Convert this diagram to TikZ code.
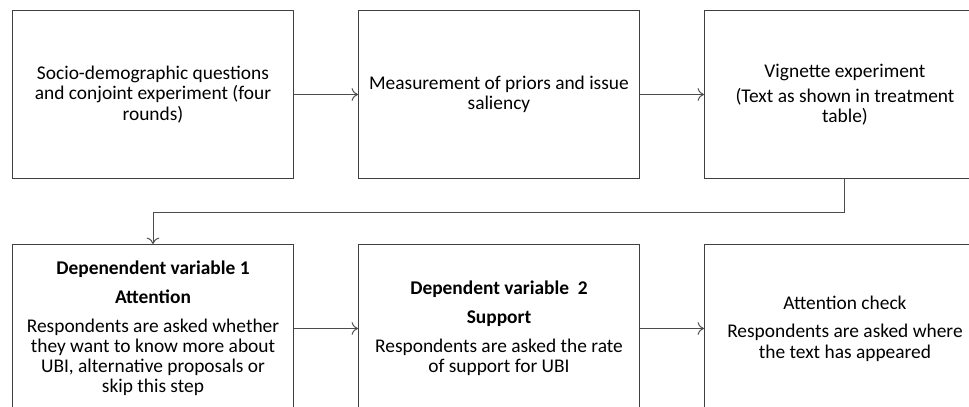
\documentclass[tikz,border=0pt]{standalone}
\usepackage{fontspec}
\setmainfont{Carlito}
\usetikzlibrary{arrows.meta, positioning}

\begin{document}
\begin{tikzpicture}[
    stage/.style={rectangle, draw=black!75, line width=0.7pt, fill=white, align=center, inner sep=0pt, minimum width=7.025cm, minimum height=4.2cm, font=\fontsize{13.8}{14.4}\selectfont},
    arrow/.style={-{To[length=4.5pt, width=9pt]}, line width=0.7pt, draw=black!70}
]
    % Frame of the page
    \useasboundingbox (0,0) rectangle (24.225,-10.15);
    \clip (0,0) rectangle (24.225,-10.15);

    % Row 1: survey start
    \node (soc) [stage, anchor=north west] at (0.3,-0.25) {Socio-demographic questions\\and conjoint experiment (four\\rounds)};
    \node (prior) [stage, right=1.6cm of soc] {Measurement of priors and issue\\saliency};
    \node (vig) [stage, right=1.6cm of prior] {Vignette experiment\\[3.5pt](Text as shown in treatment\\table)};

    % Row 2: outcomes
    \node (dv1) [stage, below=1.625cm of soc] {\textbf{Depenendent variable 1}\\[6pt]\textbf{Attention}\\[6pt]Respondents are asked whether\\they want to know more about\\UBI, alternative proposals or\\skip this step};
    \node (dv2) [stage, right=1.6cm of dv1] {\textbf{Dependent variable\ \ 2}\\[6pt]\textbf{Support}\\[6pt]Respondents are asked the rate\\of support for UBI};
    \node (check) [stage, right=1.6cm of dv2] {Attention check\\[6pt]Respondents are asked where\\the text has appeared};

    % Connectors
    \draw [arrow] (soc) -- (prior);
    \draw [arrow] (prior) -- (vig);
    \coordinate (turn) at ([yshift=-0.825cm]vig.south);
    \draw [arrow] (vig.south) -- (turn) -| (dv1.north);
    \draw [arrow] (dv1) -- (dv2);
    \draw [arrow] (dv2) -- (check);
\end{tikzpicture}
\end{document}
